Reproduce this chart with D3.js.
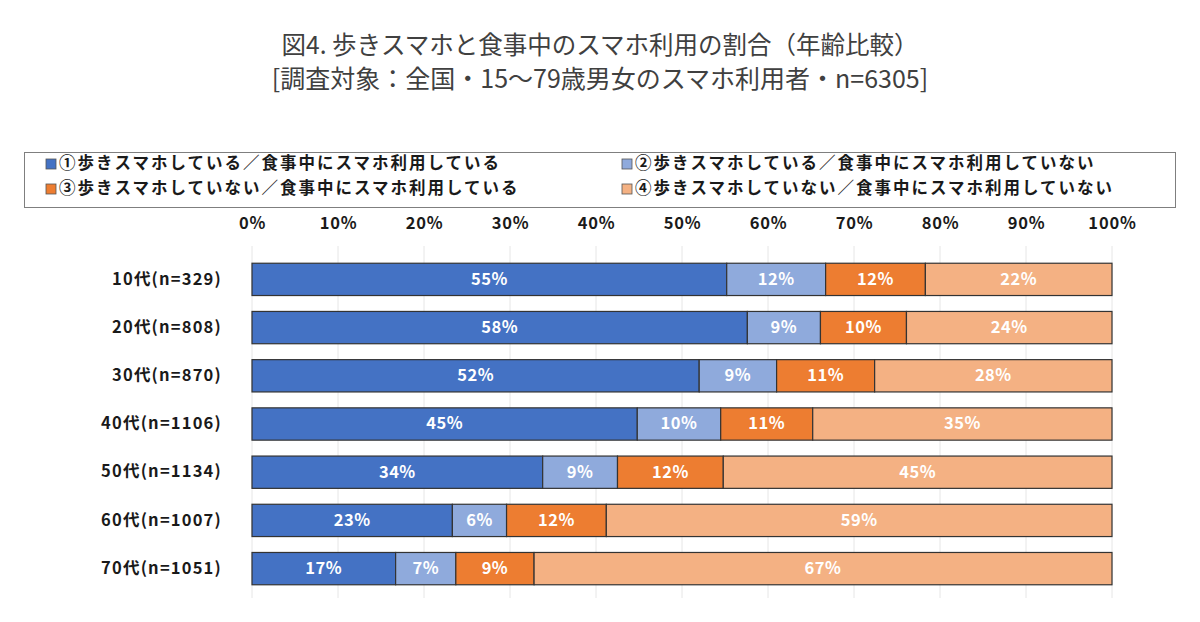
<!DOCTYPE html>
<html><head><meta charset="utf-8">
<script src="https://cdn.jsdelivr.net/npm/d3@7"></script>
<style>body{margin:0;background:#fff;}svg{display:block;}</style>
</head><body>
<svg id="c" width="1200" height="622"></svg>
<script>
const categories = ["10代(n=329)","20代(n=808)","30代(n=870)","40代(n=1106)","50代(n=1134)","60代(n=1007)","70代(n=1051)"];
const seriesNames = ["①歩きスマホしている／食事中にスマホ利用している","②歩きスマホしている／食事中にスマホ利用していない","③歩きスマホしていない／食事中にスマホ利用している","④歩きスマホしていない／食事中にスマホ利用していない"];
const s1 = [55.2,57.6,52.0,44.8,33.8,23.3,16.7];
const s2 = [11.5,8.5,9.0,9.7,8.7,6.3,7.0];
const s3 = [11.6,10.0,11.4,10.7,12.3,11.6,9.1];
const s4 = [21.7,23.9,27.6,34.8,45.2,58.8,67.2];
const labels1 = ["55%","58%","52%","45%","34%","23%","17%"];
const labels2 = ["12%","9%","9%","10%","9%","6%","7%"];
const labels3 = ["12%","10%","11%","11%","12%","12%","9%"];
const labels4 = ["22%","24%","28%","35%","45%","59%","67%"];
const tickValues = [0,10,20,30,40,50,60,70,80,90,100];
const colors = ["#4472C4","#8FAADC","#ED7D31","#F4B183"];

const svg = d3.select("#c");
const font = "'Noto Sans CJK JP','Noto Sans',sans-serif";

// title
svg.append("text").attr("x",600).attr("y",54).attr("text-anchor","middle")
  .attr("font-family",font).attr("font-size",24.5).attr("fill","#404040")
  .text("図4. 歩きスマホと食事中のスマホ利用の割合（年齢比較）");
svg.append("text").attr("x",600).attr("y",88).attr("text-anchor","middle")
  .attr("font-family",font).attr("font-size",25).attr("fill","#404040")
  .text("[調査対象：全国・15～79歳男女のスマホ利用者・n=6305]");

// legend
svg.append("rect").attr("x",24.5).attr("y",152.5).attr("width",1151).attr("height",55)
  .attr("fill","#fff").attr("stroke","#7f7f7f").attr("stroke-width",1);
const legPos = [[46,164],[622,164],[46,189],[622,189]];
seriesNames.forEach((n,i)=>{
  const [lx,ly] = legPos[i];
  svg.append("rect").attr("x",lx).attr("y",ly-5).attr("width",10).attr("height",10)
    .attr("fill",colors[i]).attr("stroke","#555").attr("stroke-width",0.8);
  svg.append("text").attr("x",lx+13).attr("y",ly+1).attr("dominant-baseline","middle")
    .attr("font-family",font).attr("font-size",16.5).attr("font-weight","bold").attr("fill","#1a1a1a")
    .attr("letter-spacing",2)
    .text(n);
});

const x = d3.scaleLinear().domain([0,100]).range([252,1112]);
const y = d3.scaleBand().domain(categories).range([256,592]).paddingInner(0.33).paddingOuter(0.15);

// gridlines
svg.append("g").selectAll("line").data(tickValues).join("line")
  .attr("x1",d=>x(d)).attr("x2",d=>x(d)).attr("y1",246).attr("y2",598)
  .attr("stroke","#e6e6e6").attr("stroke-width",1);

// top axis labels
const ax = svg.append("g").attr("transform","translate(0,231)")
  .call(d3.axisTop(x).tickValues(tickValues).tickFormat(d=>d+"%").tickSize(0).tickPadding(0));
ax.select(".domain").remove();
ax.selectAll("text").attr("font-family",font).attr("font-size",16.5).attr("font-weight","bold").attr("fill","#1a1a1a").attr("letter-spacing",0.8).attr("dy","-0.1em");

// category labels
const ay = svg.append("g").attr("transform","translate(222,0)")
  .call(d3.axisLeft(y).tickSize(0).tickPadding(0));
ay.select(".domain").remove();
ay.selectAll("text").attr("font-family",font).attr("font-size",16.5).attr("font-weight","bold").attr("fill","#1a1a1a").attr("letter-spacing",1.2);

// stacked bars
const series = [s1,s2,s3,s4];
const labs = [labels1,labels2,labels3,labels4];
const rows = categories.map((c,i)=>({cat:c, v:series.map(s=>s[i])}));
rows.forEach((r,i)=>{
  let acc = 0;
  r.v.forEach((v,k)=>{
    const x0 = x(acc), x1 = x(acc+v);
    svg.append("rect").attr("x",x0).attr("y",y(r.cat)).attr("width",x1-x0).attr("height",y.bandwidth())
      .attr("fill",colors[k]).attr("stroke","#333").attr("stroke-width",1.2);
    svg.append("text").attr("x",(x0+x1)/2).attr("y",y(r.cat)+y.bandwidth()/2+1)
      .attr("text-anchor","middle").attr("dominant-baseline","middle")
      .attr("font-family",font).attr("font-size",16.5).attr("font-weight","bold").attr("fill","#fff")
      .attr("letter-spacing",0.5)
      .text(labs[k][i]);
    acc += v;
  });
});
</script>
</body></html>
